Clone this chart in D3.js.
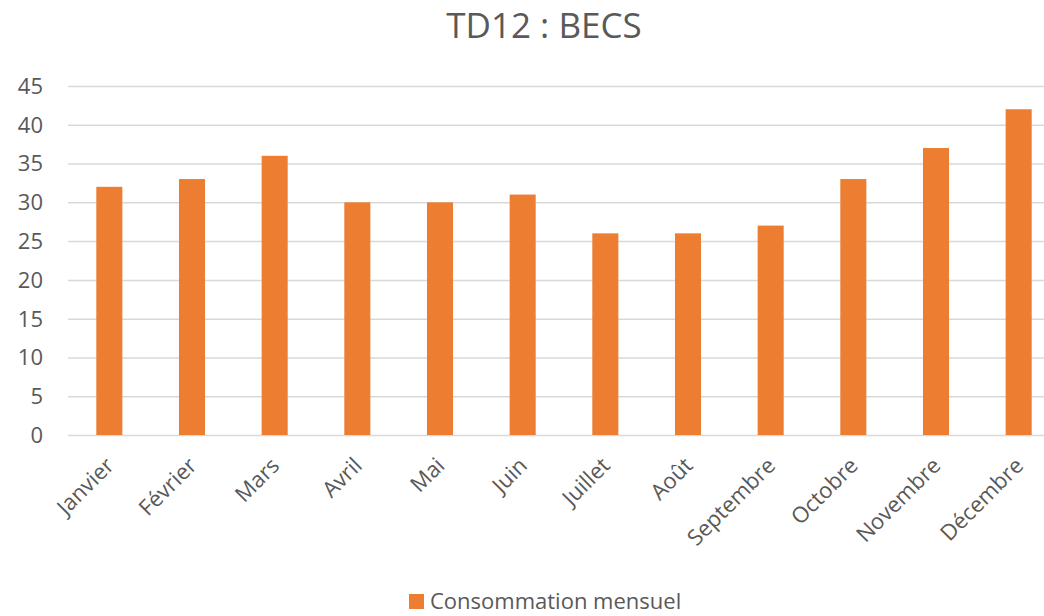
<html>
<head>
    <meta charset="utf-8">
    <script src="https://d3js.org/d3.v7.min.js"></script>
    <style>
        body { margin: 0; background: #fff; }
        text { font-family: "Open Sans", sans-serif; fill: #595959; }
        .grid line { stroke: #d9d9d9; stroke-width: 1.5px; }
        .grid .domain { stroke: none; }
    </style>
</head>
<body>
    <svg id="chart" width="1044" height="616"></svg>

    <script>
        const months = ["Janvier", "Février", "Mars", "Avril", "Mai", "Juin", "Juillet", "Août", "Septembre", "Octobre", "Novembre", "Décembre"];
        const consommation = [32, 33, 36, 30, 30, 31, 26, 26, 27, 33, 37, 42];
        const yTicks = [0, 5, 10, 15, 20, 25, 30, 35, 40, 45];
        const seriesName = "Consommation mensuel";

        const svg = d3.select("#chart");
        const margin = { top: 86, left: 68, bottom: 181 };
        const plotRight = 1060;
        const plotBottom = 616 - margin.bottom;

        const x = d3.scaleBand().domain(months)
                    .range([margin.left, plotRight])
                    .paddingInner(0.685).paddingOuter(0.3425);
        const y = d3.scaleLinear().domain([0, 45]).range([plotBottom, margin.top]);

        // gridlines
        svg.append("g")
            .attr("class", "grid")
            .attr("transform", "translate(" + margin.left + ",0)")
            .call(d3.axisLeft(y).tickValues(yTicks).tickSize(-(plotRight - margin.left)).tickFormat(""));

        // y labels
        svg.append("g").selectAll("text").data(yTicks)
            .join("text")
            .attr("x", 43)
            .attr("y", d => y(d))
            .attr("dy", "0.36em")
            .attr("text-anchor", "end")
            .style("font-size", "22px")
            .text(d => d);

        // bars
        svg.append("g").selectAll("rect").data(consommation)
            .join("rect")
            .attr("x", (d, i) => x(months[i]))
            .attr("y", d => y(d))
            .attr("width", x.bandwidth())
            .attr("height", d => y(0) - y(d))
            .attr("fill", "#ed7d31");

        // x labels rotated
        svg.append("g").selectAll("text").data(months)
            .join("text")
            .attr("text-anchor", "end")
            .attr("transform", d => "translate(" + (x(d) + x.bandwidth() / 2 + 6) + "," + (plotBottom + 32) + ") rotate(-45)")
            .style("font-size", "22px")
            .text(d => d);

        // title
        svg.append("text")
            .attr("x", 544)
            .attr("y", 38)
            .attr("text-anchor", "middle")
            .style("font-size", "35px")
            .text("TD12 : BECS");

        // legend
        const legend = svg.append("g").attr("transform", "translate(409,594)");
        legend.append("rect").attr("width", 15).attr("height", 15).attr("fill", "#ed7d31");
        legend.append("text").attr("x", 21).attr("y", 15).style("font-size", "22px").text(seriesName);
    </script>
</body>
</html>
